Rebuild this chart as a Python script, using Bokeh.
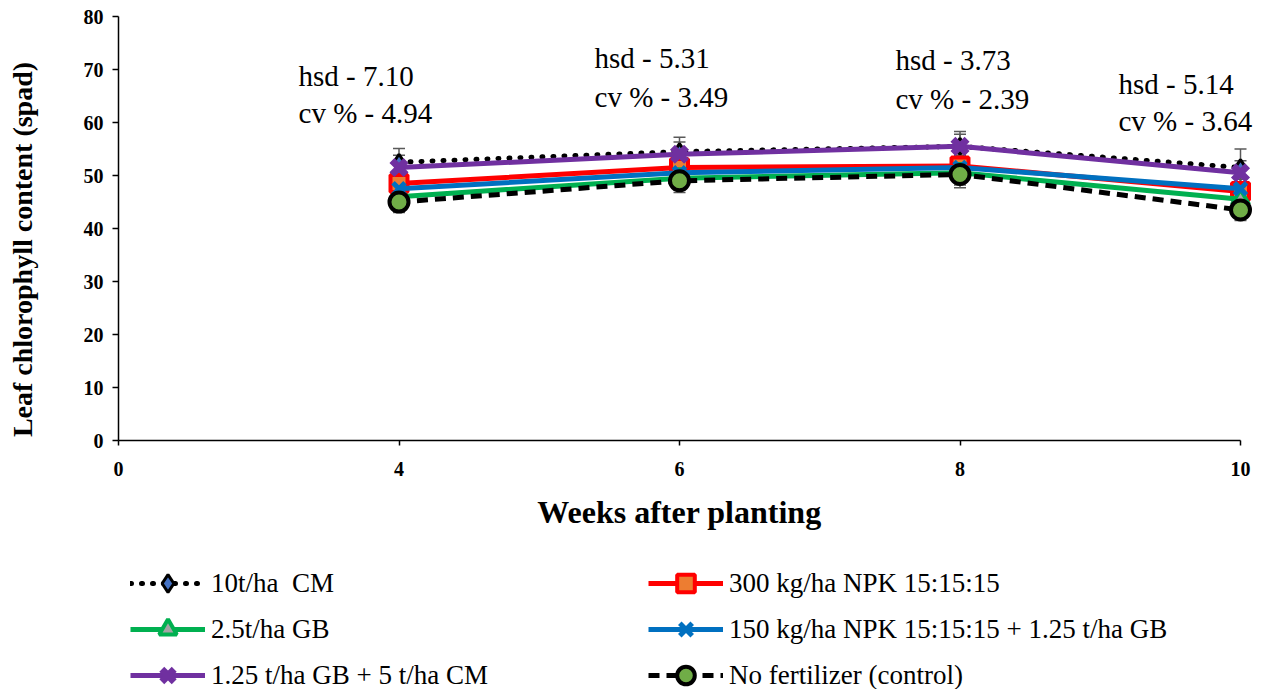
import math
from bokeh.plotting import figure
from bokeh.models import (ColumnDataSource, Whisker, Legend, LegendItem, FixedTicker, Range1d,
                          LinearAxis, Label)
from bokeh.core.properties import value
from bokeh.embed import file_html
from bokeh.resources import INLINE

# ---------------- data ----------------
tick_labels = ["0", "4", "6", "8", "10"]
weeks = [4, 6, 8, 10]

series_names = [
    "10t/ha  CM",
    "300 kg/ha NPK 15:15:15",
    "2.5t/ha GB",
    "150 kg/ha NPK 15:15:15 + 1.25 t/ha GB",
    "1.25 t/ha GB + 5 t/ha CM",
    "No fertilizer (control)",
]
cm10 = [52.5, 54.5, 55.5, 51.5]
npk300 = [48.5, 51.5, 51.8, 47.0]
gb25 = [46.0, 49.5, 50.5, 45.5]
npk150_gb = [47.5, 50.5, 51.5, 47.5]
gb_cm = [51.5, 54.0, 55.5, 50.5]
control = [45.0, 49.0, 50.2, 43.5]

cm10_err = [2.6, 2.7, 2.8, 3.5]
npk300_err = [2.3, 2.3, 2.3, 2.3]
gb25_err = [2.3, 2.3, 2.3, 2.3]
npk150_gb_err = [2.3, 2.3, 2.3, 2.3]
gb_cm_err = [2.3, 2.3, 2.3, 2.3]
control_err = [2.0, 2.2, 2.5, 2.0]

hsd_labels = ["hsd - 7.10", "hsd - 5.31", "hsd - 3.73", "hsd - 5.14"]
cv_labels = ["cv % - 4.94", "cv % - 3.49", "cv % - 2.39", "cv % - 3.64"]

x_title = "Weeks after planting"
y_title = "Leaf chlorophyll content (spad)"

FONT = "Liberation Serif"

# x position of each week on the category-like axis
xpos = [tick_labels.index(str(w)) for w in weeks]

# The frame covers the whole canvas; both axes sit at the data origin so the
# legend and titles below / left of the axes stay inside the drawable area.
W, H = 1271, 689
X_LEFT_PX, X_RIGHT_PX = 118, 1240      # where x=0 and x=4 fall
Y_TOP_PX, Y_ZERO_PX = 16, 440          # where y=80 and y=0 fall
nx = len(tick_labels) - 1
sx = (X_RIGHT_PX - X_LEFT_PX) / nx
sy = (Y_ZERO_PX - Y_TOP_PX) / 80
x_range = Range1d(-X_LEFT_PX / sx, nx + (W - X_RIGHT_PX) / sx)
y_range = Range1d(-(H - Y_ZERO_PX) / sy, 80 + Y_TOP_PX / sy)

p = figure(width=W, height=H, output_backend="svg", toolbar_location=None,
           x_range=x_range, y_range=y_range,
           x_axis_location=None, y_axis_location=None,
           min_border_left=0, min_border_right=0, min_border_top=0, min_border_bottom=0)
p.outline_line_color = None
p.xgrid.visible = False
p.ygrid.visible = False
p.background_fill_color = "white"

xaxis = LinearAxis(fixed_location=0, bounds=(0, nx))
yaxis = LinearAxis(fixed_location=0, bounds=(0, 80))
p.add_layout(xaxis, "below")
p.add_layout(yaxis, "left")

xaxis.ticker = FixedTicker(ticks=list(range(len(tick_labels))))
xaxis.major_label_overrides = {i: t for i, t in enumerate(tick_labels)}
yaxis.ticker = FixedTicker(ticks=list(range(0, 81, 10)))
for ax in (xaxis, yaxis):
    ax.axis_line_color = "black"
    ax.axis_line_width = 1.5
    ax.major_tick_line_color = "black"
    ax.major_tick_line_width = 1.5
    ax.minor_tick_line_color = None
    ax.major_label_text_font = FONT
    ax.major_label_text_font_style = "bold"
    ax.major_label_text_font_size = "20px"
    ax.major_label_text_color = "black"

xaxis.major_tick_in = 0
xaxis.major_tick_out = 5
xaxis.major_label_standoff = 16

yaxis.major_tick_in = 0
yaxis.major_tick_out = 6
yaxis.major_label_standoff = 9

# axis titles
p.add_layout(Label(x=nx / 2, y=-(511 - Y_ZERO_PX) / sy, text=x_title,
                   text_font=FONT, text_font_style="bold", text_font_size="32px",
                   text_color="black", text_align="center", text_baseline="middle"))
p.add_layout(Label(x=-(X_LEFT_PX - 22) / sx, y=(Y_ZERO_PX - 249) / sy, text=y_title,
                   angle=math.pi / 2,
                   text_font=FONT, text_font_style="bold", text_font_size="28px",
                   text_color="black", text_align="center", text_baseline="middle"))

styles = [
    dict(vals=cm10, err=cm10_err, color="black", dash="1 10", width=5,
         marker="diamond", msize=16, mfill="#4472C4", mline="black", mlw=3),
    dict(vals=npk300, err=npk300_err, color="#FF0000", dash="solid", width=5,
         marker="square", msize=17, mfill="#ED7D31", mline="#FF0000", mlw=4),
    dict(vals=gb25, err=gb25_err, color="#00B050", dash="solid", width=5,
         marker="triangle", msize=17, mfill="#A5A5A5", mline="#00B050", mlw=4),
    dict(vals=npk150_gb, err=npk150_gb_err, color="#0070C0", dash="solid", width=5,
         marker="x", msize=17, mfill="#0070C0", mline="#0070C0", mlw=5),
    dict(vals=gb_cm, err=gb_cm_err, color="#7030A0", dash="solid", width=5,
         marker="x", msize=20, mfill="#7030A0", mline="#7030A0", mlw=7),
    dict(vals=control, err=control_err, color="black", dash="11 7", width=5,
         marker="circle", msize=19, mfill="#70AD47", mline="black", mlw=4),
]

# error bars first
for s in styles:
    src = ColumnDataSource(dict(x=xpos,
                                lo=[v - e for v, e in zip(s["vals"], s["err"])],
                                hi=[v + e for v, e in zip(s["vals"], s["err"])]))
    w = Whisker(source=src, base="x", lower="lo", upper="hi", level="underlay",
                line_color="#595959", line_width=1.5)
    w.upper_head.size = 12
    w.lower_head.size = 12
    w.upper_head.line_color = "#595959"
    w.lower_head.line_color = "#595959"
    w.upper_head.line_width = 1.5
    w.lower_head.line_width = 1.5
    p.add_layout(w)

items = []
for name, s in zip(series_names, styles):
    src = ColumnDataSource(dict(x=xpos, y=s["vals"]))
    lr = p.line("x", "y", source=src, line_color=s["color"], line_width=s["width"],
                line_dash=s["dash"], line_cap="round" if s["dash"] == "1 10" else "butt")
    sr = p.scatter("x", "y", source=src, marker=s["marker"], size=s["msize"],
                   fill_color=s["mfill"], line_color=s["mline"], line_width=s["mlw"])
    items.append(LegendItem(label=name, renderers=[lr, sr]))

# hsd / cv annotations
ann_x = [0.642, 1.697, 2.770, 3.565]
hsd_y = [68.7, 72.1, 71.7, 67.2]
cv_y = [61.7, 64.9, 64.5, 60.2]
for lbls, ys in ((hsd_labels, hsd_y), (cv_labels, cv_y)):
    p.text(x=ann_x, y=ys, text=lbls, text_font=value(FONT), text_font_size="29px",
           text_color="black", text_baseline="middle", text_align="left")


def make_legend(its, loc):
    lg = Legend(items=its, location=loc, orientation="vertical")
    lg.label_text_font = FONT
    lg.label_text_font_size = "27px"
    lg.label_text_color = "black"
    lg.glyph_width = 75
    lg.glyph_height = 44
    lg.label_height = 44
    lg.spacing = 2
    lg.padding = 0
    lg.margin = 0
    lg.label_standoff = 6
    lg.border_line_alpha = 0
    lg.background_fill_alpha = 0
    return lg


p.add_layout(make_legend([items[0], items[2], items[4]], (130, -8)))
p.add_layout(make_legend([items[1], items[3], items[5]], (648, -8)))

open("out.html", "w").write(file_html(p, INLINE))
